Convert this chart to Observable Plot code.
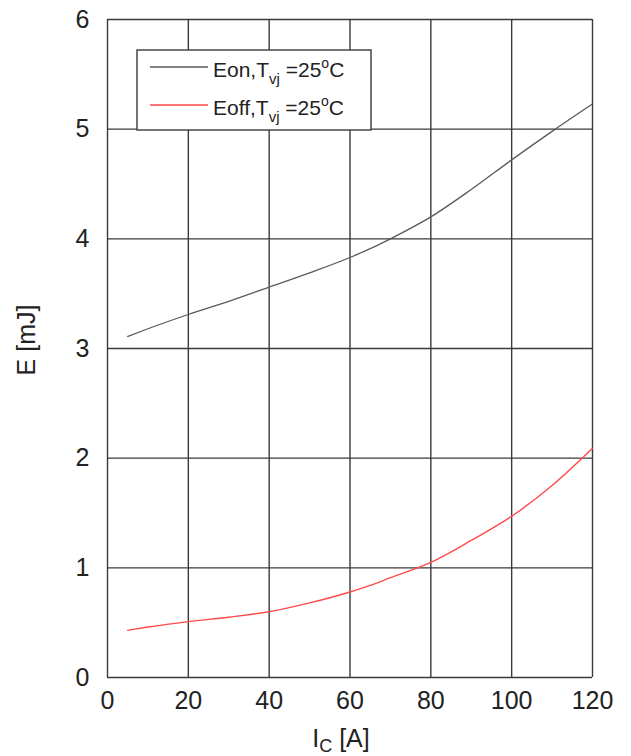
<!DOCTYPE html>
<html>
<head>
<meta charset="utf-8">
<script src="https://cdn.jsdelivr.net/npm/d3@7"></script>
<script src="https://cdn.jsdelivr.net/npm/@observablehq/plot@0.6"></script>
<style>
  html, body { margin: 0; padding: 0; background: #fff; }
  #chart { position: relative; width: 631px; height: 756px; }
</style>
</head>
<body>
<div id="chart"></div>
<script>
// ---- data ----
const currentA = [5, 10, 20, 30, 40, 50, 60, 65, 70, 80, 90, 100, 110, 120];
const eonMJ    = [3.11, 3.18, 3.31, 3.43, 3.56, 3.69, 3.83, 3.91, 4.00, 4.20, 4.45, 4.72, 4.98, 5.23];
const eoffMJ   = [0.43, 0.46, 0.51, 0.55, 0.60, 0.68, 0.78, 0.84, 0.91, 1.05, 1.25, 1.47, 1.75, 2.09];
const xTicks = [0, 20, 40, 60, 80, 100, 120];
const yTicks = [0, 1, 2, 3, 4, 5, 6];
const seriesNames = ["Eon", "Eoff"];

const eon = currentA.map((x, i) => ({x, y: eonMJ[i]}));
const eoff = currentA.map((x, i) => ({x, y: eoffMJ[i]}));

const gridColor = "#3a3a3a";
const font = "'Liberation Sans', Arial, sans-serif";

const plot = Plot.plot({
  width: 631,
  height: 756,
  marginTop: 19,
  marginBottom: 79,
  marginLeft: 107,
  marginRight: 39,
  style: {fontFamily: font, color: "#222", background: "#fff"},
  x: {domain: [0, 120]},
  y: {domain: [0, 6]},
  marks: [
    Plot.ruleX(xTicks, {stroke: gridColor, strokeWidth: 1.4}),
    Plot.ruleY(yTicks, {stroke: gridColor, strokeWidth: 1.4}),
    Plot.line(eon, {x: "x", y: "y", stroke: "#5a5a5a", strokeWidth: 1.3, curve: "monotone-x"}),
    Plot.line(eoff, {x: "x", y: "y", stroke: "#ff4a4a", strokeWidth: 1.4, curve: "monotone-x"}),
    Plot.axisX({ticks: xTicks, tickSize: 0, tickPadding: 14, label: null, fontSize: 25, tickFormat: d3.format("d")}),
    Plot.axisY({ticks: yTicks, tickSize: 0, tickPadding: 18, label: null, fontSize: 25, tickFormat: d3.format("d")})
  ]
});

document.getElementById("chart").appendChild(plot);

const svg = d3.select(plot);

// x-axis label  I_C [A]
const xl = svg.append("text")
  .attr("x", 341).attr("y", 747)
  .attr("text-anchor", "middle")
  .attr("font-family", font).attr("font-size", 25).attr("fill", "#222");
xl.append("tspan").text("I");
xl.append("tspan").attr("font-size", 18).attr("dy", 5).text("C");
xl.append("tspan").attr("dy", -5).text(" [A]");

// y-axis label  E [mJ]
svg.append("text")
  .attr("transform", "translate(35,340) rotate(-90)")
  .attr("text-anchor", "middle")
  .attr("font-family", font).attr("font-size", 25).attr("fill", "#222")
  .text("E [mJ]");

// legend
const lg = svg.append("g");
lg.append("rect")
  .attr("x", 137).attr("y", 50).attr("width", 234).attr("height", 80)
  .attr("fill", "#fff").attr("stroke", gridColor).attr("stroke-width", 1.4);
const legendColors = ["#5a5a5a", "#ff4a4a"];
const legendY = [67, 105];
seriesNames.forEach((name, i) => {
  lg.append("line")
    .attr("x1", 150).attr("x2", 208)
    .attr("y1", legendY[i]).attr("y2", legendY[i])
    .attr("stroke", legendColors[i]).attr("stroke-width", 1.4);
  const t = lg.append("text")
    .attr("x", 213).attr("y", legendY[i] + 10)
    .attr("text-anchor", "start")
    .attr("font-family", font).attr("font-size", 21).attr("fill", "#222");
  t.append("tspan").text(name + ",T");
  t.append("tspan").attr("font-size", 15).attr("dy", 7).text("vj");
  t.append("tspan").attr("dy", -7).text(" =25");
  t.append("tspan").attr("font-size", 14).attr("dy", -9).text("o");
  t.append("tspan").attr("dy", 9).text("C");
});
</script>
</body>
</html>
